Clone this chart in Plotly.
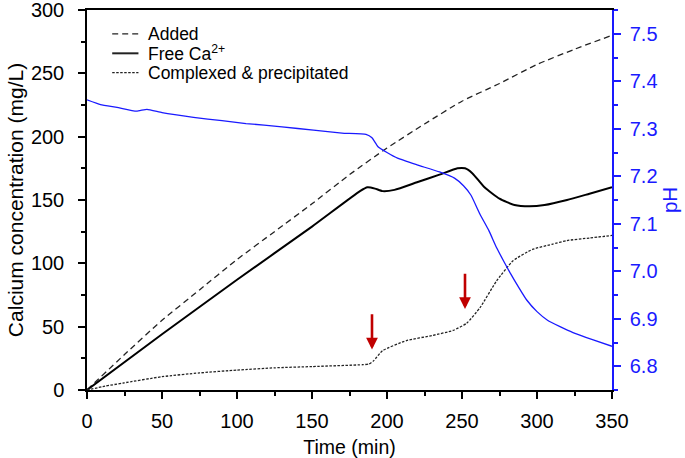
import plotly.graph_objects as go

# time grids (min)
t_added = [0, 25, 50, 75, 100, 125, 150, 175, 200, 225, 250, 275, 300, 325, 350]
added = [0, 28, 55, 79, 103, 125, 147, 170, 191, 210, 228, 242, 257, 269, 280]

t_free = [0, 50, 100, 150, 182, 187, 192, 197, 205, 220, 235, 247, 252, 257, 265,
          275, 285, 295, 305, 320, 335, 350]
free_ca = [0, 44, 87, 129, 157, 160, 159, 157, 158, 164, 170, 175, 175, 171, 160,
           151, 146, 145, 146, 150, 155, 160]

t_cplx = [0, 12, 24, 50, 75, 100, 125, 150, 184, 188, 191, 197, 213, 230, 244, 253,
          262, 273, 284, 297, 310, 320, 335, 350]
complexed = [0, 3, 5.5, 10.5, 13.5, 15.7, 17.5, 18.5, 20, 20.5, 23, 31, 39, 43, 47, 52.6,
             65, 86, 102, 111, 115, 118, 120, 122]

t_ph = [0, 9, 20, 33, 40, 50, 71, 90, 106, 130, 151, 170, 186, 190, 194, 200, 207,
        220, 235, 245, 251, 256, 262, 268, 273, 278, 282, 288, 293, 300, 307, 315,
        324, 337, 350]
ph = [7.361, 7.351, 7.345, 7.337, 7.341, 7.334, 7.324, 7.317, 7.311, 7.304, 7.297,
      7.291, 7.288, 7.281, 7.262, 7.250, 7.238, 7.224, 7.209, 7.196, 7.180, 7.160,
      7.120, 7.085, 7.050, 7.020, 6.997, 6.965, 6.940, 6.915, 6.897, 6.884,
      6.871, 6.856, 6.842]

# arrows: (time, tail conc, head conc)
arrow_t = [190, 252]
arrow_tail = [61, 93]
arrow_head = [32, 64]

# legend entries drawn by hand (label, dash, width)
legend_labels = ["Added", "Free Ca<sup>2+</sup>", "Complexed & precipitated"]
legend_dash = ["6px,4px", "solid", "2.5px,1.5px"]
legend_width = [1.3, 2, 1.3]
legend_y = [0.937, 0.886, 0.835]

font = "Liberation Sans, Arial, sans-serif"
blue = "#1a1aff"

fig = go.Figure()

fig.add_trace(go.Scatter(
    x=t_added, y=added, mode="lines", name="Added", showlegend=False,
    line=dict(color="#222222", width=1.3, dash=legend_dash[0], shape="spline", smoothing=0.6)
))
fig.add_trace(go.Scatter(
    x=t_free, y=free_ca, mode="lines", name="Free Ca<sup>2+</sup>", showlegend=False,
    line=dict(color="black", width=2, shape="spline", smoothing=0.5)
))
fig.add_trace(go.Scatter(
    x=t_cplx, y=complexed, mode="lines", name="Complexed & precipitated", showlegend=False,
    line=dict(color="#222222", width=1.3, dash=legend_dash[2], shape="spline", smoothing=0.5)
))
fig.add_trace(go.Scatter(
    x=t_ph, y=ph, mode="lines", name="pH", showlegend=False, yaxis="y2",
    line=dict(color=blue, width=1.3, shape="spline", smoothing=0.4)
))

for t, tail, head in zip(arrow_t, arrow_tail, arrow_head):
    fig.add_annotation(
        x=t, y=head, ax=t, ay=tail, xref="x", yref="y", axref="x", ayref="y",
        showarrow=True, arrowhead=2, arrowsize=0.9, arrowwidth=2.6,
        arrowcolor="#c00000", text=""
    )

# legend
for label, dash, w, ly in zip(legend_labels, legend_dash, legend_width, legend_y):
    fig.add_shape(
        type="line", xref="paper", yref="paper", x0=0.048, x1=0.098, y0=ly, y1=ly,
        line=dict(color="#222222", width=w, dash=dash)
    )
    fig.add_annotation(
        x=0.112, y=ly, xref="paper", yref="paper", text=label, showarrow=False,
        xanchor="left", yanchor="middle", font=dict(size=17.5, color="black")
    )

fig.update_layout(
    width=685,
    height=458,
    margin=dict(l=87, r=73, t=10, b=68),
    paper_bgcolor="white",
    plot_bgcolor="white",
    font=dict(family=font, color="black", size=20),
    showlegend=False,
    xaxis=dict(
        range=[0, 350], tickvals=[0, 50, 100, 150, 200, 250, 300, 350],
        ticks="outside", ticklen=7, tickwidth=1.5, tickcolor="black",
        minor=dict(dtick=25, ticks="outside", ticklen=4, tickcolor="black"),
        showline=True, linecolor="black", linewidth=1.5, mirror=True,
        showgrid=False, zeroline=False, automargin=False,
        ticklabelstandoff=5, ticklabeloverflow="allow",
        title=dict(text="Time (min)", font=dict(size=19.5), standoff=10),
        tickfont=dict(size=20),
    ),
    yaxis=dict(
        range=[0, 300], dtick=50,
        ticks="outside", ticklen=7, tickwidth=1.5, tickcolor="black",
        minor=dict(dtick=25, ticks="outside", ticklen=4, tickcolor="black"),
        showline=True, linecolor="black", linewidth=1.5,
        showgrid=False, zeroline=False, automargin=False,
        ticklabelstandoff=10, ticklabeloverflow="allow",
        title=dict(text="Calcium concentration (mg/L)", font=dict(size=21), standoff=2),
        tickfont=dict(size=20),
    ),
    yaxis2=dict(
        overlaying="y", side="right", range=[6.75, 7.55], dtick=0.1, tickformat=".1f",
        ticks="outside", ticklen=7, tickwidth=1.5, tickcolor=blue,
        minor=dict(dtick=0.05, ticks="outside", ticklen=4, tickcolor=blue),
        showline=True, linecolor=blue, linewidth=1.5,
        showgrid=False, zeroline=False, automargin=False,
        ticklabelstandoff=5, ticklabeloverflow="allow",
        title=dict(text="pH", font=dict(size=20.5, color=blue), standoff=6),
        tickfont=dict(size=20, color=blue),
    ),
)

# drop the default page margin so the figure sits at the window's corner
fig.write_html(
    "out.html",
    config={"displayModeBar": False},
    post_script="document.body.style.margin='0';",
)
